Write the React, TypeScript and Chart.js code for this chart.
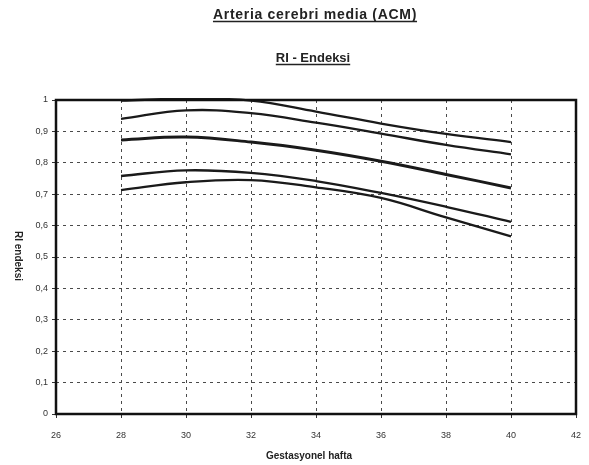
import React, { useEffect, useRef } from "react";
import { Chart, registerables } from "chart.js";

Chart.register(...registerables);

// Gestational weeks at which the reference curves are given
const weeks = [28, 30, 32, 34, 36, 38, 40];

// RI percentile curves (top to bottom)
const curveP97 = [0.998, 1.004, 0.998, 0.963, 0.925, 0.892, 0.866];
const curveP90 = [0.94, 0.967, 0.958, 0.928, 0.893, 0.857, 0.827];
const curveP50 = [0.873, 0.882, 0.866, 0.84, 0.805, 0.763, 0.72];
const curveP10 = [0.758, 0.776, 0.768, 0.742, 0.704, 0.66, 0.612];
const curveP3 = [0.713, 0.738, 0.745, 0.722, 0.688, 0.626, 0.566];

const titleMain = "Arteria cerebri media (ACM)";
const titleSub = "RI - Endeksi";
const xAxisTitle = "Gestasyonel hafta";
const yAxisTitle = "RI endeksi";

const FONT = "'Liberation Sans', Arial, sans-serif";

const toPoints = (vals: number[]) => weeks.map((w, i) => ({ x: w, y: vals[i] }));

const decorations = {
  id: "decorations",
  afterDatasetsDraw(chart: any) {
    const { ctx, chartArea } = chart;
    const { left, right, top, bottom } = chartArea;
    ctx.save();
    // plot frame
    ctx.strokeStyle = "#111";
    ctx.lineWidth = 2.5;
    ctx.strokeRect(left, top, right - left, bottom - top);
    ctx.restore();
  },
  afterDraw(chart: any) {
    const { ctx } = chart;
    const cx = 309;
    ctx.save();
    ctx.fillStyle = "#222";
    ctx.strokeStyle = "#222";
    ctx.textAlign = "center";
    ctx.textBaseline = "alphabetic";

    const underlined = (text: string, x: number, y: number, font: string, spacing: number) => {
      ctx.font = font;
      (ctx as any).letterSpacing = `${spacing}px`;
      ctx.fillText(text, x, y);
      const w = ctx.measureText(text).width;
      ctx.lineWidth = 1.3;
      ctx.beginPath();
      ctx.moveTo(x - w / 2, y + 2.5);
      ctx.lineTo(x + w / 2, y + 2.5);
      ctx.stroke();
      (ctx as any).letterSpacing = "0px";
    };
    underlined(titleMain, cx - 2, 11, `bold 14px ${FONT}`, 0.7);
    underlined(titleSub, cx - 4, 54, `bold 13px ${FONT}`, 0);

    // x axis title
    ctx.font = `bold 10px ${FONT}`;
    ctx.fillText(xAxisTitle, cx - 8, 451);

    // y axis title, reading top to bottom
    ctx.save();
    ctx.translate(10, 248);
    ctx.rotate(Math.PI / 2);
    ctx.font = `bold 10px ${FONT}`;
    ctx.textBaseline = "middle";
    ctx.fillText(yAxisTitle, 0, 0);
    ctx.restore();
    ctx.restore();
  },
};

export default function App() {
  const canvasRef = useRef<HTMLCanvasElement | null>(null);

  useEffect(() => {
    if (!canvasRef.current) return;
    const lineStyle = (data: number[], width: number) => ({
      data: toPoints(data),
      borderColor: "#1a1a1a",
      borderWidth: width,
      pointRadius: 0,
      fill: false,
      tension: 0.4,
      clip: 2,
    });
    const chart = new Chart(canvasRef.current, {
      type: "line",
      data: {
        datasets: [
          lineStyle(curveP97, 2.3),
          lineStyle(curveP90, 2.3),
          lineStyle(curveP50, 3),
          lineStyle(curveP10, 2.3),
          lineStyle(curveP3, 2.3),
        ],
      },
      plugins: [decorations],
      options: {
        animation: false,
        responsive: false,
        maintainAspectRatio: false,
        layout: { padding: { left: 0, right: 5, top: 92, bottom: 0 } },
        plugins: {
          legend: { display: false },
          title: { display: false },
          tooltip: { enabled: false },
        },
        scales: {
          x: {
            type: "linear",
            min: 26,
            max: 42,
            afterFit: (s: any) => {
              s.height = 51;
              s.paddingLeft = 0;
              s.paddingRight = 0;
            },
            border: { display: false, dash: [3, 4] },
            grid: {
              color: (c: any) => (c.tick && (c.tick.value === 26 || c.tick.value === 42) ? "rgba(0,0,0,0)" : "#4a4a4a"),
              lineWidth: 1,
              drawTicks: true,
              tickLength: 4,
              tickColor: "#333",
              tickBorderDash: [],
            },
            ticks: {
              stepSize: 2,
              padding: 12,
              color: "#333",
              font: { family: FONT, size: 9 },
              maxRotation: 0,
              callback: (v: any) => String(v),
            },
          },
          y: {
            min: 0,
            max: 1,
            afterFit: (s: any) => {
              s.width = 48;
              s.paddingTop = 0;
              s.paddingBottom = 0;
            },
            border: { display: false, dash: [3, 4] },
            grid: {
              color: (c: any) => (c.tick && (c.tick.value === 0 || c.tick.value === 1) ? "rgba(0,0,0,0)" : "#4a4a4a"),
              lineWidth: 1,
              drawTicks: true,
              tickLength: 4,
              tickColor: "#333",
              tickBorderDash: [],
            },
            ticks: {
              stepSize: 0.1,
              padding: 4,
              color: "#333",
              font: { family: FONT, size: 9 },
              callback: (v: any) => {
                const n = Math.round(Number(v) * 10) / 10;
                return n === 0 || n === 1 ? String(n) : n.toFixed(1).replace(".", ",");
              },
            },
          },
        },
      },
    } as any);
    return () => chart.destroy();
  }, []);

  return (
    <div style={{ width: 573, height: 457 }}>
      <canvas ref={canvasRef} width={573} height={457} style={{ display: "block" }} />
    </div>
  );
}
